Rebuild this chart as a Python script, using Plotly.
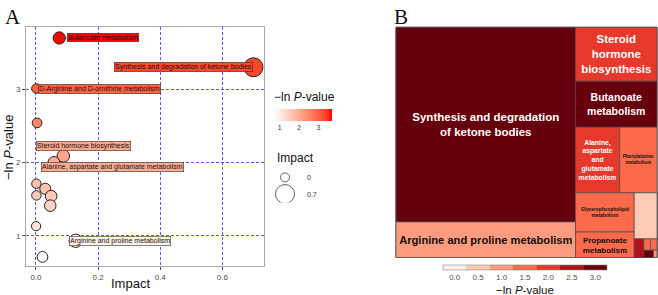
import numpy as np
import plotly.graph_objects as go

# ---------------- data ----------------
pathways = [
    "Butanoate metabolism",
    "Synthesis and degradation of ketone bodies",
    "D-Arginine and D-ornithine metabolism",
    "Pyruvate metabolism",
    "Steroid hormone biosynthesis",
    "Alanine, aspartate and glutamate metabolism",
    "Citrate cycle (TCA cycle)",
    "Propanoate metabolism",
    "Glycine, serine and threonine metabolism",
    "Phenylalanine metabolism",
    "Glycerophospholipid metabolism",
    "Tyrosine metabolism",
    "Arginine and proline metabolism",
    "Glutathione metabolism",
]
impact = [0.075, 0.70, 0.0014, 0.0036, 0.088, 0.058, 0.0015, 0.030,
          0.0015, 0.049, 0.046, 0.0005, 0.128, 0.021]
neglogp = [3.70, 3.30, 3.01, 2.54, 2.09, 2.00, 1.71, 1.64,
           1.55, 1.54, 1.41, 1.13, 0.93, 0.71]
labelled = [
    "Butanoate metabolism",
    "Synthesis and degradation of ketone bodies",
    "D-Arginine and D-ornithine metabolism",
    "Steroid hormone biosynthesis",
    "Alanine, aspartate and glutamate metabolism",
    "Arginine and proline metabolism",
]
tree_labels = {
    "Synthesis and degradation of ketone bodies": "Synthesis and degradation<br>of ketone bodies",
    "Arginine and proline metabolism": "Arginine and proline metabolism",
    "Steroid hormone biosynthesis": "Steroid<br>hormone<br>biosynthesis",
    "Butanoate metabolism": "Butanoate<br>metabolism",
    "Alanine, aspartate and glutamate metabolism": "Alanine,<br>aspartate<br>and<br>glutamate<br>metabolism",
    "Phenylalanine metabolism": "Phenylalanine<br>metabolism",
    "Glycerophospholipid metabolism": "Glycerophospholipid<br>metabolism",
    "Propanoate metabolism": "Propanoate<br>metabolism",
}
x_ticks = [0.0, 0.2, 0.4, 0.6]
x_tick_labels = ["0.0", "0.2", "0.4", "0.6"]
y_ticks = [1, 2, 3]
y_tick_labels = ["1", "2", "3"]
cbar_ticks = [1, 2, 3]
size_legend_values = [0.0, 0.7]
size_legend_labels = ["0", "0.7"]
bin_centers = [0.0, 0.5, 1.0, 1.5, 2.0, 2.5, 3.0]
bin_labels = ["0.0", "0.5", "1.0", "1.5", "2.0", "2.5", "3.0"]
bin_colors = ["#fef0ea", "#fdcab5", "#fc9b7e", "#fb6a4a", "#e6392b", "#b0131e", "#67000d"]

# ---------------- helpers ----------------
W, H = 658, 295
FONT = "Liberation Sans"


def _lin(c):
    c = c / 255.0
    return np.where(c <= 0.04045, c / 12.92, ((c + 0.055) / 1.055) ** 2.4)


def _unlin(c):
    c = np.where(c <= 0.0031308, 12.92 * c, 1.055 * np.clip(c, 0, None) ** (1 / 2.4) - 0.055)
    return np.clip(np.round(c * 255), 0, 255).astype(int)


M = np.array([[0.4124, 0.3576, 0.1805], [0.2126, 0.7152, 0.0722], [0.0193, 0.1192, 0.9505]])
WHITE = np.array([0.95047, 1.0, 1.08883])
d = 6 / 29


def rgb2lab(rgb):
    xyz = M @ _lin(np.array(rgb, float)) / WHITE
    f = np.where(xyz > d ** 3, np.cbrt(xyz), xyz / (3 * d * d) + 4 / 29)
    return np.array([116 * f[1] - 16, 500 * (f[0] - f[1]), 200 * (f[1] - f[2])])


def lab2rgb(lab):
    L, a, b = lab
    fy = (L + 16) / 116
    fx = fy + a / 500
    fz = fy - b / 200
    f = np.array([fx, fy, fz])
    xyz = np.where(f > d, f ** 3, 3 * d * d * (f - 4 / 29)) * WHITE
    return _unlin(np.linalg.inv(M) @ xyz)


LAB_LO = rgb2lab([255, 255, 255])
LAB_HI = rgb2lab([255, 0, 0])


def grad(t):
    r, g, b = lab2rgb(LAB_LO + (LAB_HI - LAB_LO) * t)
    return f"rgb({r},{g},{b})"


vmin, vmax = min(neglogp), max(neglogp)
scatter_scale = [[t, grad(t)] for t in np.linspace(0, 1, 11)]


def size_px(v):
    return 9 + 10 * np.sqrt(np.asarray(v, float) / 0.7)


fig = go.Figure()

# ---------------- panel A: bubble plot ----------------
fig.add_trace(go.Scatter(
    x=impact, y=neglogp, mode="markers", xaxis="x", yaxis="y",
    marker=dict(size=size_px(impact), color=neglogp, colorscale=scatter_scale,
                cmin=vmin, cmax=vmax, opacity=1,
                line=dict(color="#222222", width=1),
                colorbar=dict(orientation="h", x=303 / W, xanchor="center",
                              y=1 - 109 / H, yanchor="top", len=58, lenmode="pixels",
                              thickness=12, xpad=0, ypad=0, outlinewidth=0,
                              tickvals=cbar_ticks, ticks="",
                              tickfont=dict(family=FONT, size=7, color="#333333"))),
    hoverinfo="skip", showlegend=False,
))

# label offsets (pixels) for the repelled labels
offsets = {
    "Butanoate metabolism": (44, 0, True),
    "Synthesis and degradation of ketone bodies": (-70, 0, False),
    "D-Arginine and D-ornithine metabolism": (63, 0, False),
    "Steroid hormone biosynthesis": (20, 10, False),
    "Alanine, aspartate and glutamate metabolism": (59, -5, False),
    "Arginine and proline metabolism": (44, 0, False),
}
annotations = []
for name in labelled:
    i = pathways.index(name)
    t = (neglogp[i] - vmin) / (vmax - vmin)
    dx, dy, arrow = offsets[name]
    a = dict(x=impact[i], y=neglogp[i], xref="x", yref="y", text=name,
             font=dict(family=FONT, size=7, color="#111111"),
             bgcolor=grad(t), bordercolor="#333333", borderwidth=0.6, borderpad=0.5)
    if arrow:
        a.update(showarrow=True, ax=dx, ay=-dy, arrowhead=0, arrowwidth=0.8,
                 arrowcolor="#555555", standoff=0, startstandoff=0)
    else:
        a.update(showarrow=False, xshift=dx, yshift=dy)
    annotations.append(a)

# size legend
fig.add_trace(go.Scatter(
    x=[1.5, 1.5], y=[1, 0], mode="markers", xaxis="x3", yaxis="y3",
    marker=dict(size=size_px(size_legend_values), color="white",
                line=dict(color="#222222", width=1)),
    hoverinfo="skip", showlegend=False,
))
for yy, lab in zip([1, 0], size_legend_labels):
    annotations.append(dict(x=305 / W, xref="paper", y=yy, yref="y3", text=lab,
                            showarrow=False, xanchor="left",
                            font=dict(family=FONT, size=7, color="#333333")))
annotations += [
    dict(x=272 / W, y=1 - 97 / H, xref="paper", yref="paper", xanchor="left",
         yanchor="middle", showarrow=False, text="\u2212ln <i>P</i>-value",
         font=dict(family=FONT, size=12, color="#111111")),
    dict(x=275 / W, y=1 - 158 / H, xref="paper", yref="paper", xanchor="left",
         yanchor="middle", showarrow=False, text="Impact",
         font=dict(family=FONT, size=12, color="#111111")),
    dict(x=130 / W, y=1 - 283 / H, xref="paper", yref="paper", xanchor="center",
         yanchor="middle", showarrow=False, text="Impact",
         font=dict(family=FONT, size=13, color="#111111")),
    dict(x=8 / W, y=1 - 148 / H, xref="paper", yref="paper", xanchor="center",
         yanchor="middle", showarrow=False, text="\u2212ln <i>P</i>-value", textangle=-90,
         font=dict(family=FONT, size=13, color="#111111")),
    dict(x=3 / W, y=1 - 3 / H, xref="paper", yref="paper", xanchor="left",
         yanchor="top", showarrow=False, text="A",
         font=dict(family="Liberation Serif", size=21, color="#111111")),
    dict(x=392 / W, y=1 - 3 / H, xref="paper", yref="paper", xanchor="left",
         yanchor="top", showarrow=False, text="B",
         font=dict(family="Liberation Serif", size=21, color="#111111")),
    dict(x=525 / W, y=1 - 289.5 / H, xref="paper", yref="paper", xanchor="center",
         yanchor="middle", showarrow=False, text="\u2212ln <i>P</i>-value",
         font=dict(family=FONT, size=11.5, color="#111111")),
]

# ---------------- panel B: treemap ----------------
group_of = {
    "Synthesis and degradation of ketone bodies": "g1",
    "Arginine and proline metabolism": "g1",
    "Steroid hormone biosynthesis": "g2",
    "Butanoate metabolism": "g2",
    "Alanine, aspartate and glutamate metabolism": "g2",
    "Phenylalanine metabolism": "g2",
    "Glycerophospholipid metabolism": "g3a",
    "Propanoate metabolism": "g3a",
    "Glutathione metabolism": "g3b",
    "Pyruvate metabolism": "g3b",
    "Citrate cycle (TCA cycle)": "g3b",
    "Glycine, serine and threonine metabolism": "g3b",
    "D-Arginine and D-ornithine metabolism": "g3b",
    "Tyrosine metabolism": "g3b",
}
order = [
    ("root", ""), ("g1", "root"),
    "Synthesis and degradation of ketone bodies", "Arginine and proline metabolism",
    ("g2", "root"),
    "Steroid hormone biosynthesis", "Butanoate metabolism",
    "Alanine, aspartate and glutamate metabolism", "Phenylalanine metabolism",
    ("g3", "g2"), ("g3a", "g3"),
    "Glycerophospholipid metabolism", "Propanoate metabolism",
    ("g3b", "g3"),
    "Glutathione metabolism", "Pyruvate metabolism", "Citrate cycle (TCA cycle)",
    "Glycine, serine and threonine metabolism", "D-Arginine and D-ornithine metabolism",
    "Tyrosine metabolism",
]
text_size = {
    "Synthesis and degradation of ketone bodies": 11.5,
    "Arginine and proline metabolism": 11.5,
    "Steroid hormone biosynthesis": 11.5,
    "Butanoate metabolism": 10.5,
    "Alanine, aspartate and glutamate metabolism": 7.5,
    "Phenylalanine metabolism": 4.8,
    "Glycerophospholipid metabolism": 4.8,
    "Propanoate metabolism": 10.5,
}
white_text = {"Synthesis and degradation of ketone bodies", "Steroid hormone biosynthesis",
              "Butanoate metabolism", "Alanine, aspartate and glutamate metabolism"}

ids, parents, values, colors, texts, tsizes, tcolors = [], [], [], [], [], [], []
for item in order:
    if isinstance(item, tuple):
        ids.append(item[0]); parents.append(item[1]); values.append(0)
        colors.append(0.0); texts.append(""); tsizes.append(10); tcolors.append("black")
    else:
        i = pathways.index(item)
        ids.append(item); parents.append(group_of[item]); values.append(impact[i])
        colors.append(neglogp[i])
        lab = tree_labels.get(item, "")
        texts.append(f"<b>{lab}</b>" if lab else "")
        tsizes.append(text_size.get(item, 4))
        tcolors.append("white" if item in white_text else "#111111")

n = len(bin_colors)
lo, hi = bin_centers[0] - 0.25, bin_centers[-1] + 0.25
tree_scale = []
for k, c in enumerate(bin_colors):
    tree_scale += [[k / n, c], [(k + 1) / n, c]]

fig.add_trace(go.Treemap(
    ids=ids, labels=ids, parents=parents, values=values, branchvalues="remainder",
    sort=False, text=texts, texttemplate="%{text}", textposition="middle center",
    textfont=dict(family=FONT, size=tsizes, color=tcolors),
    marker=dict(colors=colors, colorscale=tree_scale, cmin=lo, cmax=hi,
                line=dict(color="#4a4a4a", width=0.7), pad=dict(t=0, l=0, r=0, b=0),
                showscale=True,
                colorbar=dict(orientation="h", x=525 / W, xanchor="center",
                              y=1 - 265 / H, yanchor="top", len=164, lenmode="pixels",
                              thickness=5, xpad=0, ypad=0, outlinewidth=0.6,
                              outlinecolor="#888888", tickvals=bin_centers,
                              ticktext=bin_labels, ticks="",
                              tickfont=dict(family=FONT, size=8, color="#4d4d4d"))),
    tiling=dict(packing="squarify", pad=0),
    pathbar=dict(visible=False),
    domain=dict(x=[396 / W, 657 / W], y=[1 - 257.5 / H, 1 - 27.3 / H]),
    hoverinfo="skip",
))

axis_common = dict(showline=True, mirror=True, linecolor="#aaaaaa", linewidth=1,
                   showgrid=True, gridcolor="rgba(60,60,255,0.85)", gridwidth=0.8,
                   griddash="3px,2px", zeroline=False, ticks="outside", ticklen=3,
                   tickcolor="#555555", tickfont=dict(family=FONT, size=8, color="#4d4d4d"))

fig.update_layout(
    width=W, height=H, margin=dict(l=0, r=0, t=0, b=0),
    paper_bgcolor="white", plot_bgcolor="white", showlegend=False,
    xaxis=dict(domain=[26 / W, 264 / W], range=[-0.032, 0.734], tickvals=x_ticks,
               ticktext=x_tick_labels, **axis_common),
    yaxis=dict(domain=[1 - 266 / H, 1 - 27 / H], range=[0.586, 3.85], tickvals=y_ticks,
               ticktext=y_tick_labels, **axis_common),
    xaxis3=dict(domain=[270 / W, 300 / W], range=[0, 3], visible=False, fixedrange=True),
    yaxis3=dict(domain=[1 - 202.4 / H, 1 - 169 / H], range=[-0.5, 1.5], visible=False,
                fixedrange=True, anchor="x3"),
    annotations=annotations,
    font=dict(family=FONT),
)
fig.data[1].update(xaxis="x3", yaxis="y3")
fig.write_html("out.html")
